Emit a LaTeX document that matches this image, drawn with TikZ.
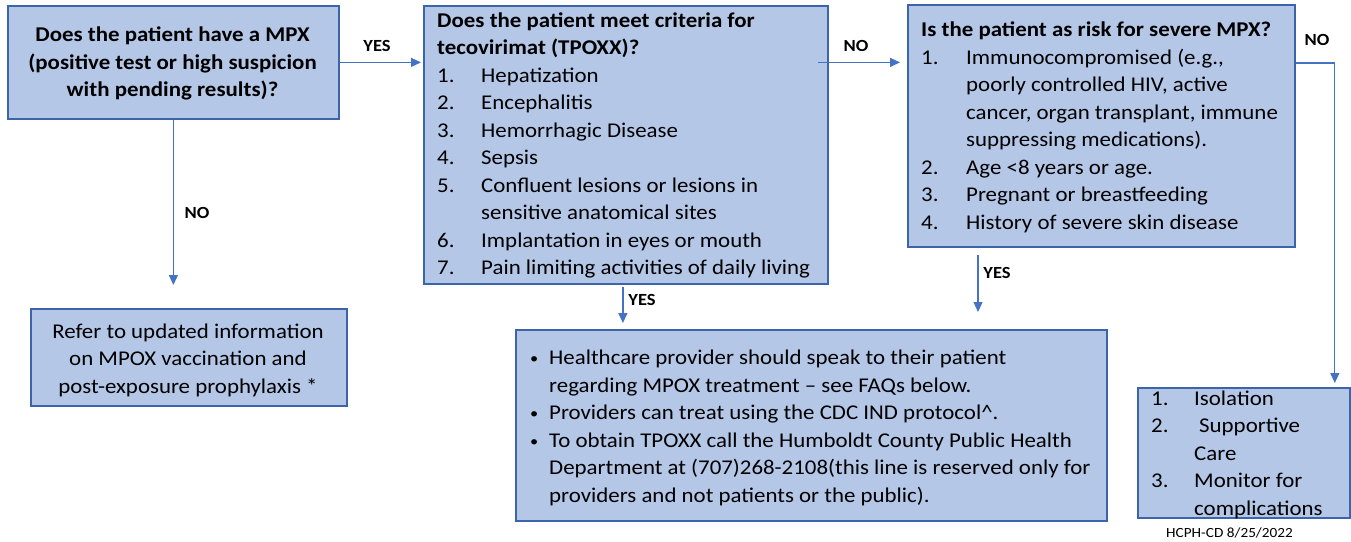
\documentclass[tikz,border=0pt]{standalone}
\usepackage{fontspec}
\setmainfont{Carlito}[FakeStretch=1.09]
\usetikzlibrary{arrows.meta}
\definecolor{boxfill}{HTML}{B4C7E7}
\definecolor{boxline}{HTML}{3C64AA}
\definecolor{arrowc}{HTML}{4472C4}
\newcommand\bodysize{\fontsize{21}{27.5}\selectfont}
\newcommand\itm[2]{\makebox[#1][l]{#2}}
\newcommand\bul{\makebox[19pt][l]{\fontsize{15}{15}\selectfont\raisebox{1pt}{•}}}
\begin{document}
\begin{tikzpicture}[x=1pt,y=-1pt,
  box/.style={draw=boxline, fill=boxfill, line width=1.8pt, inner sep=0pt, anchor=north west},
  txt/.style={inner sep=0pt, anchor=base west, font=\bodysize},
  ctxt/.style={inner sep=0pt, anchor=base, font=\bodysize},
  lbl/.style={inner sep=0pt, font=\fontsize{17}{19}\selectfont\bfseries},
  conn/.style={draw=arrowc, line width=1.2pt, -{Triangle[length=10pt,width=9pt]}},
]
\useasboundingbox (0,0) rectangle (1351,541);

% boxes
\node[box, minimum width=331pt, minimum height=113pt] (A) at (7,5) {};
\node[box, minimum width=404pt, minimum height=278pt] (B) at (423,5) {};
\node[box, minimum width=387pt, minimum height=242pt] (C) at (907,4) {};
\node[box, minimum width=591pt, minimum height=191pt] (D) at (515,329) {};
\node[box, minimum width=316pt, minimum height=97pt] (E) at (30,308) {};
\node[box, minimum width=212pt, minimum height=130pt] (F) at (1137,387) {};

% texts
\node[ctxt] (At) at (172.5,41.5) {\parbox[t]{325pt}{\bodysize\centering\bfseries
Does the patient have a MPX\\(positive test or high suspicion\\with pending results)?}};

\node[txt] (Bt) at (437,27) {\parbox[t]{390pt}{\bodysize\raggedright
\textbf{Does the patient meet criteria for}\\
\textbf{tecovirimat (TPOXX)?}\\
\itm{44pt}{1.}Hepatization\\
\itm{44pt}{2.}Encephalitis\\
\itm{44pt}{3.}Hemorrhagic Disease\\
\itm{44pt}{4.}Sepsis\\
\itm{44pt}{5.}Confluent lesions or lesions in\\
\hspace*{44pt}sensitive anatomical sites\\
\itm{44pt}{6.}Implantation in eyes or mouth\\
\itm{44pt}{7.}Pain limiting activities of daily living}};

\node[txt] (Ct) at (921,36.5) {\parbox[t]{390pt}{\bodysize\raggedright
\textbf{Is the patient as risk for severe MPX?}\\
\itm{45pt}{1.}Immunocompromised (e.g.,\\
\hspace*{45pt}poorly controlled HIV, active\\
\hspace*{45pt}cancer, organ transplant, immune\\
\hspace*{45pt}suppressing medications).\\
\itm{45pt}{2.}Age <8 years or age.\\
\itm{45pt}{3.}Pregnant or breastfeeding\\
\itm{45pt}{4.}History of severe skin disease}};

\node[txt] (Dt) at (530,364.5) {\parbox[t]{600pt}{\bodysize\raggedright
\bul Healthcare provider should speak to their patient\\
\hspace*{19pt}regarding MPOX treatment – see FAQs below.\\
\bul Providers can treat using the CDC IND protocol\textasciicircum.\\
\bul To obtain TPOXX call the Humboldt County Public Health\\
\hspace*{19pt}Department at (707)268-2108(this line is reserved only for\\
\hspace*{19pt}providers and not patients or the public).}};

\node[ctxt] (Et) at (188,338) {\parbox[t]{330pt}{\bodysize\centering
Refer to updated information\\on MPOX vaccination and\\post-exposure prophylaxis *}};

\node[txt] (Ft) at (1151,405) {\parbox[t]{220pt}{\bodysize\raggedright
\itm{43pt}{1.}Isolation\\
\itm{43pt}{2.}\hspace*{5pt}Supportive\\
\hspace*{43pt}Care\\
\itm{43pt}{3.}Monitor for\\
\hspace*{43pt}complications}};

\node[inner sep=0pt, anchor=base, font=\fontsize{14}{16}\selectfont] (foot) at (1229.5,537) {HCPH-CD 8/25/2022};

% connector helper coordinates
\path (B.east |- A.east) ++(-11,0) coordinate (bc);
\path (B.south) ++(-3,0) coordinate (bd);
\path (C.south west) ++(71,0) coordinate (cd);
\path (C.north east) ++(0,59) coordinate (cf);
\path (F.north east) ++(-16,0) coordinate (fa);

% connectors
\draw[conn, shorten >=2pt] (A.east) -- (A.east -| B.west);
\draw[conn, shorten >=23pt] (A.south) -- (A.south |- E.north);
\draw[conn, shorten >=7pt] (bc) -- (bc -| C.west);
\draw[conn, shorten <=2pt, shorten >=6pt] (bd) -- (bd |- D.north);
\draw[conn, shorten <=7pt, shorten >=17pt] (cd) -- (cd |- D.north);
\draw[conn, shorten >=4pt] (cf) -- (cf -| fa) -- (fa);

% labels
\node[lbl] (l1) at (377,46) {YES};
\node[lbl] (l2) at (197,213) {NO};
\node[lbl] (l3) at (856,46) {NO};
\node[lbl] (l4) at (642,300) {YES};
\node[lbl] (l5) at (997,273) {YES};
\node[lbl] (l6) at (1317,40) {NO};
\end{tikzpicture}
\end{document}
